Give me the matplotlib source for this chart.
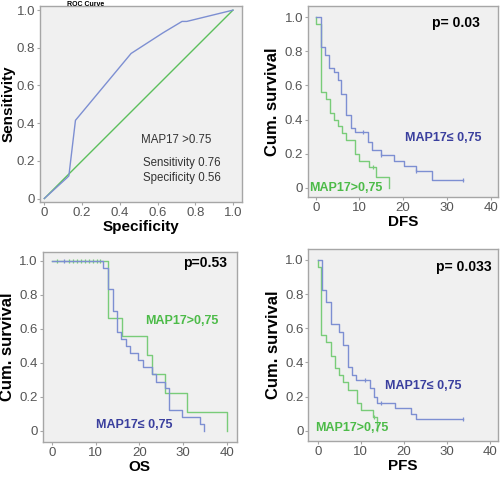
import numpy as np
import matplotlib
matplotlib.use("Agg")
import matplotlib.pyplot as plt

plt.rcParams['font.family'] = ['Liberation Sans', 'DejaVu Sans']

# ---------------- data ----------------
roc_fpr = [0.0, 0.12, 0.13, 0.165, 0.46, 0.63, 0.73, 0.755, 1.0]
roc_tpr = [0.0, 0.11, 0.12, 0.415, 0.77, 0.88, 0.94, 0.94, 1.0]

# DFS
dfs_low_t = [1.24, 2.07, 3.1, 4.14, 5.07, 5.9, 6.94, 7.97, 8.9, 12.0, 12.84, 14.9, 17.9, 20.3, 22.9, 26.6]
dfs_low_s = [0.825, 0.78, 0.70, 0.68, 0.63, 0.55, 0.425, 0.35, 0.327, 0.27, 0.22, 0.19, 0.158, 0.125, 0.096, 0.047]
dfs_low_end = 33.8
dfs_low_cens = [10.9, 14.9, 22.9, 33.8]
dfs_high_t = [0.0, 1.21, 2.28, 3.2, 4.14, 5.07, 6.0, 6.94, 8.9, 9.84, 12.2, 13.9, 16.8]
dfs_high_s = [0.96, 0.56, 0.52, 0.44, 0.40, 0.36, 0.32, 0.28, 0.20, 0.16, 0.12, 0.064, 0.0]
dfs_high_end = 16.8
dfs_high_cens = [13.0]

# OS
os_low_t = [11.7, 12.85, 13.9, 14.9, 15.8, 16.8, 17.8, 19.7, 20.9, 22.8, 23.9, 25.8, 26.8, 29.8, 33.9, 34.9]
os_low_s = [0.958, 0.833, 0.708, 0.583, 0.54, 0.50, 0.458, 0.417, 0.375, 0.333, 0.29, 0.25, 0.125, 0.083, 0.04, 0.0]
os_low_end = 34.9
os_low_cens = [2.75]
os_high_t = [12.85, 15.9, 21.8, 22.95, 25.85, 31.0, 40.0]
os_high_s = [0.667, 0.556, 0.444, 0.333, 0.222, 0.111, 0.0]
os_high_end = 40.0
os_high_cens = [1.0, 3.9, 4.8, 5.7, 6.6, 7.5, 8.4, 9.3, 10.2, 10.9]

# PFS
pfs_low_t = [0.93, 1.85, 3.0, 4.94, 5.97, 7.0, 7.93, 8.86, 12.15, 13.0, 13.9, 17.9, 21.8, 22.8]
pfs_low_s = [0.826, 0.756, 0.625, 0.58, 0.502, 0.375, 0.326, 0.30, 0.248, 0.20, 0.164, 0.131, 0.098, 0.066]
pfs_low_end = 33.9
pfs_low_cens = [11.0, 14.8, 33.9]
pfs_high_t = [0.0, 0.77, 1.85, 3.0, 4.0, 4.94, 5.97, 7.0, 9.06, 10.1, 12.8, 13.9]
pfs_high_s = [0.96, 0.56, 0.52, 0.44, 0.365, 0.326, 0.287, 0.238, 0.16, 0.121, 0.082, 0.0]
pfs_high_end = 13.9
pfs_high_cens = [13.2]

ytick_vals = [0, 0.2, 0.4, 0.6, 0.8, 1.0]
ytick_labels = ['0', '0.2', '0.4', '0.6', '0.8', '1.0']
xtick_km = [0, 10, 20, 30, 40]
roc_xlabels = ['0', '0.2', '0.4', '0.6', '0.8', '1.0']

# ---------------- style ----------------
BG = '#f0f0f0'
EDGE = '#a6a6a6'
TICKC = '#555555'
BLUE_LINE = '#7d8fd2'
GREEN_LINE = '#79cc79'
BLUE_TXT = '#3a3f9e'
GREEN_TXT = '#4cbb48'

fig = plt.figure(figsize=(5.0, 4.83), dpi=100)


def style_axes(ax):
    ax.set_facecolor(BG)
    for sp in ax.spines.values():
        sp.set_color(EDGE)
        sp.set_linewidth(1.0)
    ax.tick_params(direction='out', length=2.5, width=0.8, color=EDGE,
                   labelcolor=TICKC, labelsize=9.5, pad=1)


def km(ax, t, s, end, cens, color):
    tt = [0.0] + list(t) + [end]
    ss = [1.0] + list(s) + [s[-1]]
    ax.step(tt, ss, where='post', color=color, lw=1.0)
    tarr = np.array(tt)
    sarr = np.array(ss)
    for c in cens:
        idx = np.searchsorted(tarr, c, side='right') - 1
        ax.plot([c], [sarr[idx]], marker='|', ms=3.5, mew=0.9, color=color)


# ROC
ax1 = fig.add_axes([0.080, 0.582, 0.404, 0.406])
style_axes(ax1)
ax1.plot([0, 1], [0, 1], color='#5cbf5c', lw=1.0)
ax1.plot(roc_fpr, roc_tpr, color=BLUE_LINE, lw=1.0)
ax1.set_xlim(-0.023, 1.048)
ax1.set_ylim(-0.018, 1.023)
ax1.set_xticks(ytick_vals)
ax1.set_xticklabels(roc_xlabels)
ax1.set_yticks(ytick_vals)
ax1.set_yticklabels(ytick_labels)
ax1.set_xlabel('Specificity', fontsize=11, fontweight='bold', labelpad=1)
ax1.set_ylabel('Sensitivity', fontsize=11, fontweight='bold', labelpad=1)
ax1.text(0.885, 0.31, 'MAP17 >0.75', ha='right', va='center', fontsize=8.3, color='#333333')
ax1.text(0.935, 0.186, 'Sensitivity 0.76', ha='right', va='center', fontsize=8.3, color='#333333')
ax1.text(0.935, 0.11, 'Specificity 0.56', ha='right', va='center', fontsize=8.3, color='#333333')
fig.text(0.172, 0.9915, 'ROC Curve', ha='center', va='center', fontsize=5, fontweight='bold')

panels = [
    ([0.616, 0.592, 0.380, 0.395], (-1.76, 41.7), (-0.054, 1.063), 'DFS',
     ('p= 0.03', 0.905, 0.911),
     (dfs_low_t, dfs_low_s, dfs_low_end, dfs_low_cens),
     (dfs_high_t, dfs_high_s, dfs_high_end, dfs_high_cens),
     (29.2, 0.29), (7.0, 0.0)),
    ([0.0854, 0.0855, 0.388, 0.393], (-2.2, 42.3), (-0.063, 1.053), 'OS',
     ('p=0.53', 0.948, 0.939),
     (os_low_t, os_low_s, os_low_end, os_low_cens),
     (os_high_t, os_high_s, os_high_end, os_high_cens),
     (18.8, 0.035), (29.7, 0.647)),
    ([0.6166, 0.087, 0.379, 0.397], (-2.2, 41.9), (-0.06, 1.063), 'PFS',
     ('p= 0.033', 0.967, 0.906),
     (pfs_low_t, pfs_low_s, pfs_low_end, pfs_low_cens),
     (pfs_high_t, pfs_high_s, pfs_high_end, pfs_high_cens),
     (24.6, 0.264), (7.9, 0.018)),
]

for rect, xl, yl, xlab, ptxt, low, high, low_pos, high_pos in panels:
    ax = fig.add_axes(rect)
    style_axes(ax)
    km(ax, *high, GREEN_LINE)
    km(ax, *low, BLUE_LINE)
    ax.set_xlim(*xl)
    ax.set_ylim(*yl)
    ax.set_xticks(xtick_km)
    ax.set_yticks(ytick_vals)
    ax.set_yticklabels(ytick_labels)
    ax.set_xlabel(xlab, fontsize=11, fontweight='bold', labelpad=1)
    ax.set_ylabel('Cum. survival', fontsize=12, fontweight='bold', labelpad=3)
    ax.text(ptxt[1], ptxt[2], ptxt[0], transform=ax.transAxes, ha='right', va='center',
            fontsize=10, fontweight='bold', color='black')
    ax.text(low_pos[0], low_pos[1], 'MAP17\u2264 0,75', ha='center', va='center',
            fontsize=9, fontweight='bold', color=BLUE_TXT)
    ax.text(high_pos[0], high_pos[1], 'MAP17>0,75', ha='center', va='center',
            fontsize=9, fontweight='bold', color=GREEN_TXT)

fig.savefig('out.png', dpi=100, facecolor='white')
